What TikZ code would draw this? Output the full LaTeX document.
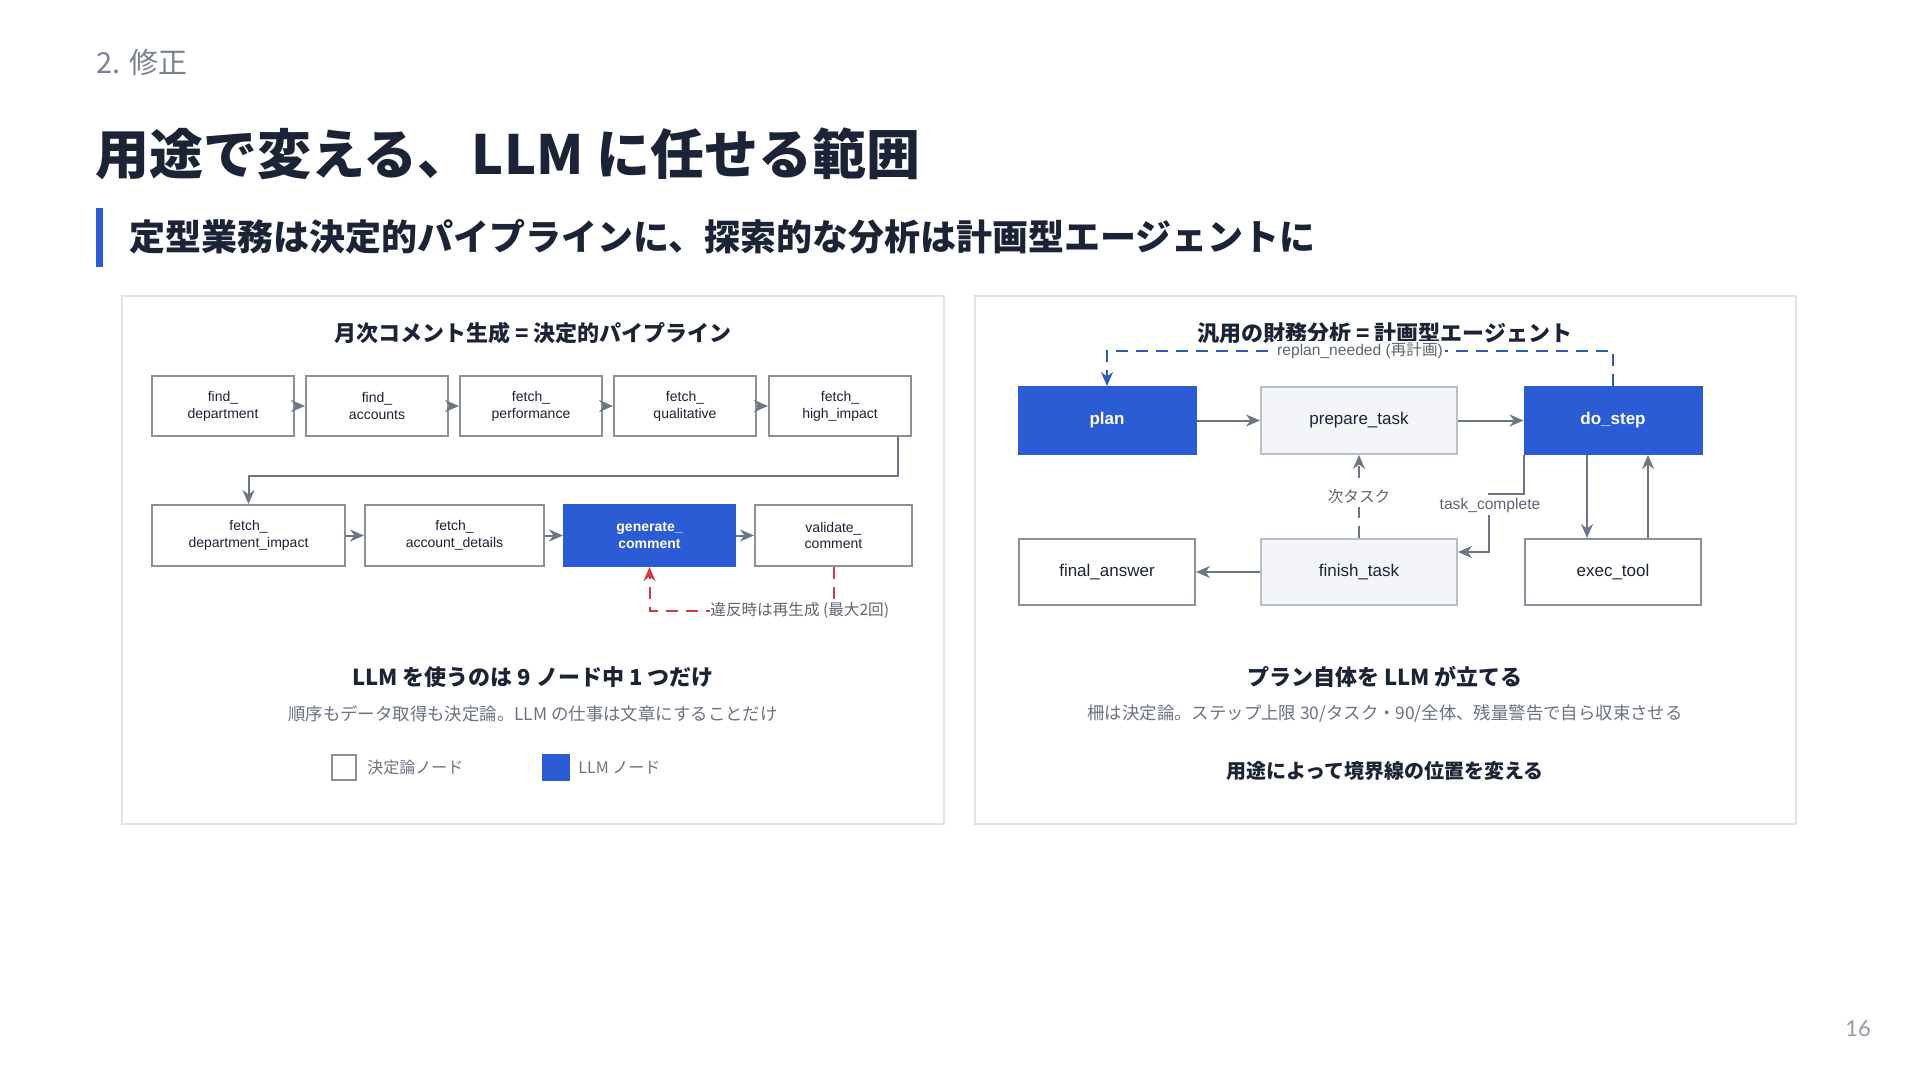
\documentclass[tikz,border=0pt]{standalone}
\usepackage{fontspec}
\setmainfont{Noto Sans CJK JP}
\newfontfamily\nodefont{Liberation Sans}
\newfontfamily\pagefont{Lato}
\usepackage{xcolor}
\usetikzlibrary{calc,arrows.meta}

\definecolor{inkdark}{HTML}{1B2436}
\definecolor{headgray}{HTML}{7A8391}
\definecolor{textgray}{HTML}{6B7280}
\definecolor{labelgray}{HTML}{5F6672}
\definecolor{edgegray}{HTML}{6B7686}
\definecolor{boxgray}{HTML}{8A919C}
\definecolor{lightborder}{HTML}{B7BFCA}
\definecolor{lightfill}{HTML}{F3F5F9}
\definecolor{panelgray}{HTML}{DFE3E8}
\definecolor{llmblue}{HTML}{2B5CD6}
\definecolor{replanblue}{HTML}{2F5AB8}
\definecolor{retryred}{HTML}{D33745}

\newcommand{\fs}[1]{\fontsize{#1}{1.2\dimexpr #1pt\relax}\selectfont}

\begin{document}
\begin{tikzpicture}[x=0.5pt,y=-0.5pt]
        \tikzstyle{detnode}=[draw=boxgray,fill=white,line width=1pt,align=center,inner sep=0pt,text=inkdark]
        \tikzstyle{worknode}=[draw=lightborder,fill=lightfill,line width=1pt,align=center,inner sep=0pt,text=inkdark]
        \tikzstyle{llmnode}=[draw=llmblue,fill=llmblue,line width=1pt,align=center,inner sep=0pt,text=white]
        \tikzstyle{flow}=[draw=edgegray,line width=1pt,-{Stealth[length=7pt,width=6pt]}]
        \tikzstyle{elabel}=[fill=white,inner sep=1.5pt,text=labelgray,font=\fs{7.8}]
        \tikzstyle{plain}=[inner sep=0pt]

            \fill[white] (0,0) rectangle (1920,1080);
            \useasboundingbox (0,0) rectangle (1920,1080);

            \node[plain,anchor=west,text=headgray,font=\fs{14.5}] (sec) at (96,62) {2. 修正};
            \node[plain,anchor=west,text=inkdark,font=\bfseries\fs{27}] (title) at (95,154) {用途で変える、LLM に任せる範囲};
            \fill[llmblue] (96,208) rectangle (103,267);
            \node[plain,anchor=west,text=inkdark,font=\bfseries\fs{18}] (sub) at (129,237) {定型業務は決定的パイプラインに、探索的な分析は計画型エージェントに};

            \draw[panelgray,line width=1.2pt] (122,296) rectangle (944,824);
            \draw[panelgray,line width=1.2pt] (975,296) rectangle (1796,824);

            \node[plain,text=inkdark,font=\bfseries\fs{11}] (ltitle) at (533,333) {月次コメント生成 = 決定的パイプライン};

            \tikzstyle{every node}=[font=\nodefont\fs{7}]
            \node[detnode,minimum width=71pt,minimum height=30pt] (fd) at (223,406) {find\_\\department};
            \node[detnode,minimum width=71pt,minimum height=30pt] (fa) at ($(fd)+(154,0)$) {find\_\\accounts};
            \node[detnode,minimum width=71pt,minimum height=30pt] (fp) at ($(fa)+(154,0)$) {fetch\_\\performance};
            \node[detnode,minimum width=71pt,minimum height=30pt] (fq) at ($(fp)+(154,0)$) {fetch\_\\qualitative};
            \node[detnode,minimum width=71pt,minimum height=30pt] (fhi) at ($(fq)+(155,0)$) {fetch\_\\high\_impact};

            \node[detnode,minimum width=96.5pt,minimum height=30.5pt] (fdi) at (248.5,535.5) {fetch\_\\department\_impact};
            \node[detnode,minimum width=89.5pt,minimum height=30.5pt] (fad) at ($(fdi)+(206,0)$) {fetch\_\\account\_details};
            \node[llmnode,minimum width=85.5pt,minimum height=30.5pt,font=\nodefont\bfseries\fs{7}] (gc) at ($(fad)+(195,0)$) {generate\_\\comment};
            \node[detnode,minimum width=78.5pt,minimum height=30.5pt] (vc) at ($(gc)+(184,0)$) {validate\_\\comment};

            \draw[flow] (fd) -- (fa);
            \draw[flow] (fa) -- (fp);
            \draw[flow] (fp) -- (fq);
            \draw[flow] (fq) -- (fhi);
            \draw[flow] ($(fhi.south east)+(-14,0)$) -- ++(0,39) -| (fdi.north);
            \draw[flow] (fdi) -- (fad);
            \draw[flow] (fad) -- (gc);
            \draw[flow] (gc) -- (vc);

            \draw[retryred,line width=1pt,dash pattern=on 6pt off 4pt,-{Stealth[length=7pt,width=6pt]}] (vc.south) -- ++(0,44) -| (gc.south);
            \node[elabel,anchor=west,inner sep=0pt] (retry) at (710,610) {違反時は再生成 (最大2回)};

            \tikzstyle{every node}=[]
            \node[plain,text=inkdark,font=\bfseries\fs{11}] (lhead) at (533,677) {LLM を使うのは 9 ノード中 1 つだけ};
            \node[plain,text=textgray,font=\fs{8.7}] (lnote) at (533,714) {順序もデータ取得も決定論。LLM の仕事は文章にすることだけ};

            \node[detnode,minimum width=12pt,minimum height=12.5pt] (lgdet) at (344,767.5) {};
            \node[plain,anchor=west,text=textgray,font=\fs{8}] (lgdettxt) at ($(lgdet.east)+(10,0)$) {決定論ノード};
            \node[llmnode,minimum width=13pt,minimum height=12.5pt] (lgllm) at (556,767.5) {};
            \node[plain,anchor=west,text=textgray,font=\fs{8}] (lgllmtxt) at ($(lgllm.east)+(8,0)$) {LLM ノード};

            \node[plain,text=inkdark,font=\bfseries\fs{11}] (rtitle) at (1385,333) {汎用の財務分析 = 計画型エージェント};

            \tikzstyle{every node}=[font=\nodefont\fs{8.5}]
            \node[llmnode,minimum width=88.5pt,minimum height=33.5pt,font=\nodefont\bfseries\fs{8.5}] (plan) at (1107,420.5) {plan};
            \node[worknode,minimum width=98pt,minimum height=33.5pt] (prep) at ($(plan)+(252,0)$) {prepare\_task};
            \node[llmnode,minimum width=88.5pt,minimum height=33.5pt,font=\nodefont\bfseries\fs{8.5}] (dostep) at ($(prep)+(254,0)$) {do\_step};
            \node[detnode,minimum width=88pt,minimum height=33pt] (final) at ($(plan)+(0,151.5)$) {final\_answer};
            \node[worknode,minimum width=98pt,minimum height=33pt] (finish) at ($(prep)+(0,151.5)$) {finish\_task};
            \node[detnode,minimum width=88pt,minimum height=33pt] (exec) at ($(dostep)+(0,151.5)$) {exec\_tool};

            \draw[flow] (plan) -- (prep);
            \draw[flow] (prep) -- (dostep);
            \draw[flow] (finish) -- (final);
            \draw[flow] ($(dostep.south)+(-26,0)$) -- ($(exec.north)+(-26,0)$);
            \draw[flow] ($(exec.north)+(35,0)$) -- ($(dostep.south)+(35,0)$);
            \draw[flow,dash pattern=on 6pt off 4pt] (finish) -- (prep);
            \node[elabel] (nexttask) at ($(finish.north)!0.5!(prep.south)$) {次タスク};
            \draw[flow] (dostep.south west) -- ++(0,39) -- ++(-35,0) |- ($(finish.east)+(0,-20)$);
            \node[elabel,font=\nodefont\fs{7.8}] (done) at (1490,505) {task\_complete};

            \draw[replanblue,line width=1pt,dash pattern=on 6pt off 4pt,-{Stealth[length=7pt,width=6pt]}] (dostep.north) -- ++(0,-35) -| (plan.north);
            \node[elabel,inner sep=1pt] (replan) at ($(plan.north)!0.5!(dostep.north)+(0,-35)$) {{\nodefont replan\_needed (}再計画{\nodefont )}};

            \tikzstyle{every node}=[]
            \node[plain,text=inkdark,font=\bfseries\fs{11}] (rhead) at (1385,677) {プラン自体を LLM が立てる};
            \node[plain,text=textgray,font=\fs{8.7}] (rnote) at (1385,714) {柵は決定論。ステップ上限 30/タスク・90/全体、残量警告で自ら収束させる};
            \node[plain,text=inkdark,font=\bfseries\fs{10}] (rmsg) at (1385,771) {用途によって境界線の位置を変える};

            \node[plain,text=headgray!80,font=\pagefont\fs{11}] (page) at (1858,1029) {16};

        \end{tikzpicture}
\end{document}
